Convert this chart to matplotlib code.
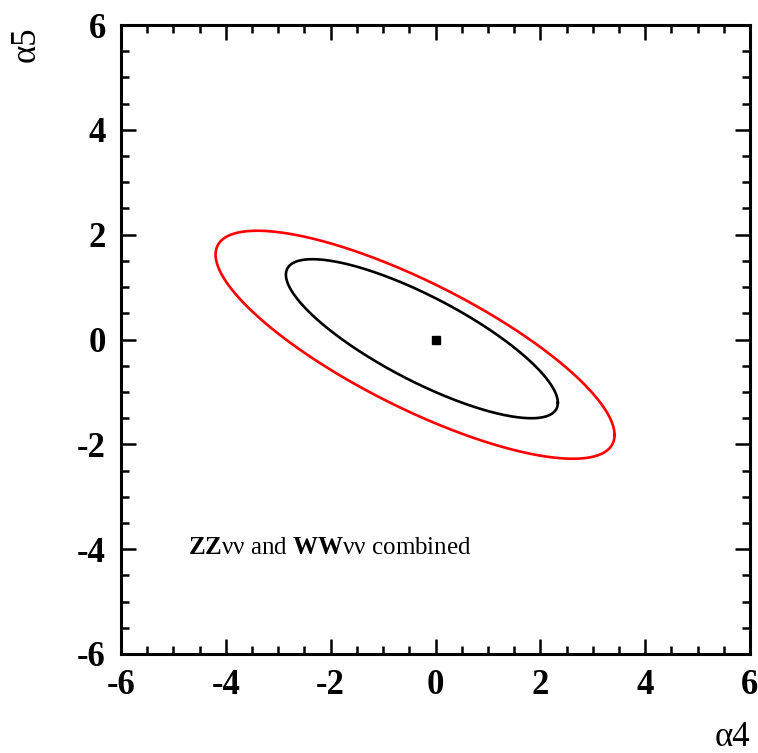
import numpy as np
import matplotlib
matplotlib.use("Agg")
import matplotlib.pyplot as plt
from matplotlib.ticker import MultipleLocator

plt.rcParams["font.family"] = ["Liberation Serif", "DejaVu Serif"]
plt.rcParams["mathtext.fontset"] = "custom"
plt.rcParams["mathtext.rm"] = "Liberation Serif"
plt.rcParams["mathtext.bf"] = "Liberation Serif:bold"

# Confidence contours in the (alpha4, alpha5) plane:
# centre, half-extent along each axis and correlation coefficient
contour_names = ["outer", "inner"]
contour_colors = ["#ff0000", "#000000"]
center_a4 = [-0.39, -0.26]
center_a5 = [-0.10, 0.015]
extent_a4 = [3.806, 2.594]
extent_a5 = [2.175, 1.517]
correlation = [-0.791, -0.805]

# Best-fit / reference point
best_a4 = [0.0]
best_a5 = [0.0]

x_ticks = [-6, -4, -2, 0, 2, 4, 6]
y_ticks = [-6, -4, -2, 0, 2, 4, 6]

fig = plt.figure(figsize=(7.58, 7.53), dpi=100)
ax = fig.add_axes([121 / 758, 99 / 753, 629 / 758, 629 / 753])

t = np.linspace(0, 2 * np.pi, 600)
circle = np.vstack([np.cos(t), np.sin(t)])
for cx, cy, sx, sy, r, col in zip(center_a4, center_a5, extent_a4, extent_a5,
                                  correlation, contour_colors):
    cov = np.array([[sx * sx, r * sx * sy], [r * sx * sy, sy * sy]])
    L = np.linalg.cholesky(cov)
    pts = L @ circle
    ax.plot(cx + pts[0], cy + pts[1], color=col, lw=1.9, solid_joinstyle="round")

ax.plot(best_a4, best_a5, marker="s", color="black", ms=5.5, ls="none")

ax.set_xlim(-6, 6)
ax.set_ylim(-6, 6)
ax.set_xticks(x_ticks)
ax.set_yticks(y_ticks)
ax.set_xticklabels([str(v) for v in x_ticks])
ax.set_yticklabels([str(v) for v in y_ticks])
ax.xaxis.set_minor_locator(MultipleLocator(0.5))
ax.yaxis.set_minor_locator(MultipleLocator(0.5))

for s in ax.spines.values():
    s.set_linewidth(2.2)

ax.tick_params(which="both", direction="in", top=True, right=True, width=1.8)
ax.tick_params(which="major", length=11)
ax.tick_params(which="minor", length=6)
ax.tick_params(axis="x", which="major", pad=11)
ax.tick_params(axis="y", which="major", pad=11)
for lab in ax.get_xticklabels() + ax.get_yticklabels():
    lab.set_fontsize(25)
    lab.set_fontweight("bold")

fig.text(750 / 758, 1 - 746 / 753, "α4", fontsize=25, ha="right", va="baseline")
fig.text(26 / 758, 1 - 26 / 753, "α5", fontsize=25, ha="center", va="top",
         rotation=90)

fig.text(188 / 758, 1 - 548 / 753,
         r"$\mathbf{ZZ}$νν and $\mathbf{WW}$νν combined",
         fontsize=18, ha="left", va="center")

fig.savefig("out.png", dpi=100)
